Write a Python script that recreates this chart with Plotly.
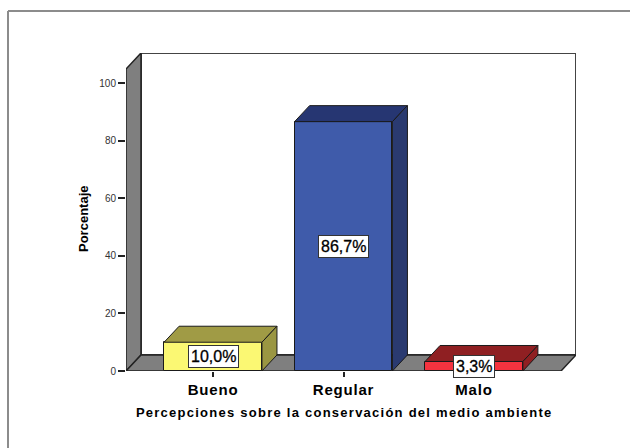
import plotly.graph_objects as go

categories = ['Bueno', 'Regular', 'Malo']
percent = [10.0, 86.7, 3.3]
front_colors = ['#FBF873', '#3F5BAA', '#F5333F']
top_colors = ['#A09B45', '#263672', '#8F1F22']
side_colors = ['#9A9642', '#2A3A70', '#8F1F22']
y_ticks = [0, 20, 40, 60, 80, 100]

W, H = 630, 448
L, R, T, B = 126, 576, 53, 371

# 3d look: depth in axis units, bar width in category units
bar_w = 0.75
dx = 0.115
dy = 5.57
x0, x1 = -0.667, 2.667
y_top = 105.0


def px_x(p):
    return (p - L) / (R - L)


def px_y(p):
    return (B - p) / (B - T)


fig = go.Figure()

fig.add_trace(go.Bar(x=list(range(3)), y=percent, width=bar_w,
                     marker=dict(color=front_colors, line=dict(color='#1a1a1a', width=1)),
                     hoverinfo='skip'))

# Top and side of each bar
for i, v in enumerate(percent):
    a, b = i - bar_w / 2, i + bar_w / 2
    fig.add_trace(go.Scatter(x=[a, a + dx, b + dx, b, a], y=[v, v + dy, v + dy, v, v],
                             mode='lines', fill='toself', fillcolor=top_colors[i],
                             line=dict(color='#1a1a1a', width=1), hoverinfo='skip'))
    fig.add_trace(go.Scatter(x=[b, b + dx, b + dx, b, b], y=[v, v + dy, dy, 0, v],
                             mode='lines', fill='toself', fillcolor=side_colors[i],
                             line=dict(color='#1a1a1a', width=1), hoverinfo='skip'))

wall = dict(type='path', xref='x', yref='y', layer='below', fillcolor='#7F7F7F',
            line=dict(color='#222222', width=1.5))
# back wall first so the floor and left wall sit on top of it
shapes = [
    dict(type='path', xref='x', yref='y', layer='below', fillcolor='white',
         line=dict(color='#444444', width=2),
         path=f'M {x0 + dx} {dy} L {x0 + dx} {y_top + dy} L {x1 + dx} {y_top + dy} L {x1 + dx} {dy} Z'),
    dict(wall, path=f'M {x0} 0 L {x0} {y_top} L {x0 + dx} {y_top + dy} L {x0 + dx} {dy} Z'),
    dict(wall, path=f'M {x0} 0 L {x1} 0 L {x1 + dx} {dy} L {x0 + dx} {dy} Z'),
    # outer frame, runs off the right and bottom of the page
    dict(type='line', xref='paper', yref='paper', x0=px_x(8), x1=px_x(8), y0=px_y(460), y1=px_y(11),
         line=dict(color='#8c8c8c', width=2)),
    dict(type='line', xref='paper', yref='paper', x0=px_x(8), x1=px_x(640), y0=px_y(11), y1=px_y(11),
         line=dict(color='#8c8c8c', width=2)),
]

labels = [dict(x=i, y=v / 2, text=f'{v:.1f}%'.replace('.', ','), showarrow=False,
               font=dict(family='Liberation Sans', size=16, color='black'),
               bgcolor='white', bordercolor='#333333', borderwidth=1, borderpad=2)
          for i, v in enumerate(percent)]
labels.append(dict(xref='paper', yref='paper', x=px_x(343.5), y=px_y(412), showarrow=False,
                   xanchor='center', yanchor='middle',
                   text='Percepciones sobre la conservación del medio ambiente',
                   font=dict(family='Liberation Sans', size=13, weight='bold', color='black')))
labels.append(dict(xref='paper', yref='paper', x=px_x(83), y=px_y(219), showarrow=False, textangle=-90,
                   xanchor='center', yanchor='middle',
                   text='Porcentaje',
                   font=dict(family='Liberation Sans', size=13, weight='bold', color='black')))

fig.update_layout(
    width=W, height=H, autosize=False, showlegend=False,
    margin=dict(l=L, r=W - R, t=T, b=H - B, pad=0),
    paper_bgcolor='white', plot_bgcolor='white',
    shapes=shapes, annotations=labels, bargap=0,
    font=dict(family='Liberation Sans', color='black'),
)
fig.update_xaxes(range=[x0, x1 + dx], tickmode='array', tickvals=list(range(3)), ticktext=categories,
                 showgrid=False, zeroline=False, showline=False, ticks='outside', ticklen=5, tickwidth=1.5,
                 tickcolor='#222222', tickfont=dict(family='Liberation Sans', size=15, weight='bold'))
fig.update_yaxes(range=[0, y_top + dy], tickmode='array', tickvals=y_ticks,
                 showgrid=False, zeroline=False, showline=False, ticks='outside', ticklen=7, tickwidth=1.5,
                 tickcolor='#222222', tickfont=dict(family='Liberation Sans', size=10, color='#333333'))

# the reference text is set wider than the font's normal spacing, value labels a bit heavier
spacing = """
document.body.style.margin='0';
document.querySelectorAll('.xtick text').forEach(t => t.style.letterSpacing='0.8px');
document.querySelectorAll('.annotation-text').forEach(t => {
  if (t.textContent.startsWith('Percepciones')) t.style.letterSpacing='1.25px';
  if (t.textContent.includes('%')) { t.style.stroke='black'; t.style.strokeWidth='0.3px'; }
});
"""
fig.write_html("out.html", post_script=spacing, config=dict(displayModeBar=False))
